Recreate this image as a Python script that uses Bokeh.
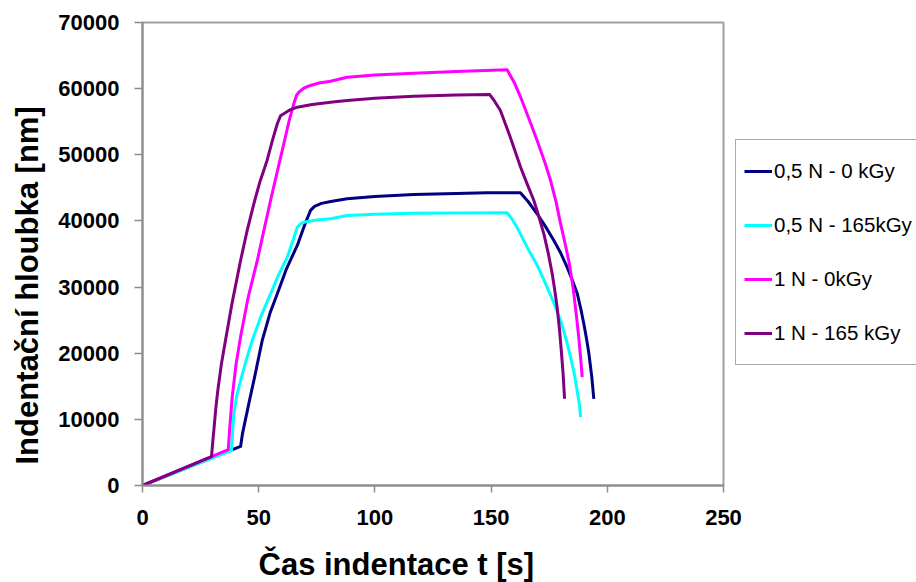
from bokeh.plotting import figure
from bokeh.models import Legend, LegendItem, FixedTicker, Range1d, Title
from bokeh.embed import file_html
from bokeh.resources import INLINE

# ---- data ----
t_05_0 = [0, 42.2, 43.0, 44.2, 46.0, 48.0, 51.5, 55.0, 58.0, 62.0, 66.6, 70.0, 72.3, 74.0, 77.0, 81.0, 88.0,
          100.0, 116.7, 135.0, 148.3, 162.6, 166.0, 169.8, 173.5, 177.0, 180.0, 182.7, 185.0, 187.1, 188.6,
          189.9, 191.1, 192.1, 193.3, 194.2]
y_05_0 = [0, 5900, 7800, 9800, 12800, 16000, 21900, 26200, 29000, 32800, 36300, 39600, 41600, 42200, 42650, 42940, 43340,
          43700, 44000, 44150, 44250, 44250, 42900, 41080, 39100, 37040, 35100, 33000, 31000, 28980, 26700,
          24450, 22100, 19910, 16500, 13100]

t_05_165 = [0, 38.3, 38.8, 39.3, 40.5, 42.2, 44.5, 47.2, 51.0, 55.1, 58.5, 62.3, 65.0, 66.6, 68.0, 69.4, 75.0, 80.9, 88.1,
            100.0, 116.7, 135.0, 156.9, 159.0, 161.5, 165.5, 170.0, 174.1, 177.0, 179.9, 182.2, 184.2, 185.8,
            187.0, 188.0, 188.5]
y_05_165 = [0, 5300, 8200, 10840, 13500, 15870, 18800, 21920, 25600, 28980, 31800, 34520, 37300, 39050, 39560, 39810,
            40150, 40320, 40820, 41000, 41170, 41200, 41230, 40300, 38800, 36030, 33200, 29980, 27600, 24950, 22200,
            19400, 16900, 14360, 12300, 10330]

t_1_0 = [0, 36.9, 37.6, 38.6, 40.2, 42.2, 45.5, 49.4, 52.0, 55.1, 58.0, 60.8, 63.0, 65.1, 66.3, 67.3, 69.5, 72.3,
         76.0, 80.9, 88.1, 100.0, 116.7, 135.0, 156.9, 160.0, 162.7, 166.0, 169.8, 173.0, 175.6, 178.0, 179.9,
         181.7, 183.4, 184.6, 185.6, 186.7, 187.7, 188.5, 189.2]
y_1_0 = [0, 5440, 9000, 13350, 18200, 22500, 28500, 34020, 38200, 43090, 47500, 51660, 55000, 57710, 59000, 59470,
         60100, 60480, 60850, 61130, 61730, 62050, 62340, 62600, 62850, 60900, 58710, 55700, 52160, 49000, 46110,
         42800, 39570, 36800, 34020, 31500, 28980, 25700, 22420, 19400, 16370]

t_1_165 = [0, 29.7, 30.2, 30.7, 31.5, 32.4, 34.0, 35.7, 38.5, 42.2, 45.0, 47.9, 50.5, 53.6, 56.0, 58.0, 59.4, 60.8,
           63.5, 66.6, 73.0, 80.9, 88.1, 100.0, 116.7, 135.0, 149.4, 151.5, 154.0, 158.0, 162.7, 165.5, 168.4,
           170.6, 172.7, 174.6, 176.3, 177.4, 178.4, 179.4, 180.2, 181.0, 181.6]
y_1_165 = [0, 4380, 6500, 8320, 11500, 14360, 18500, 21920, 27500, 34020, 38500, 42590, 45900, 49140, 52300, 54690,
           55900, 56200, 56800, 57200, 57600, 57950, 58210, 58550, 58860, 59050, 59110, 58100, 56700, 52900, 48120,
           45600, 43090, 40600, 38050, 35100, 32010, 29500, 26960, 23700, 20410, 16800, 13110]

series_names = ["0,5 N - 0 kGy", "0,5 N - 165kGy", "1 N - 0kGy", "1 N - 165 kGy"]
series_colors = ["#000080", "#00FFFF", "#FF00FF", "#800080"]

x_ticks = [0, 50, 100, 150, 200, 250]
y_ticks = [0, 10000, 20000, 30000, 40000, 50000, 60000, 70000]

x_title = "Čas indentace t [s]"
y_title = "Indentační hloubka [nm]"

FONT = "Liberation Sans"

p = figure(frame_width=581, frame_height=463,
           min_border_left=142, min_border_right=193, min_border_top=22, min_border_bottom=100,
           x_range=Range1d(0, 250), y_range=Range1d(0, 70000),
           output_backend="svg", toolbar_location=None,
           background_fill_color="white", border_fill_color="white")

p.xgrid.visible = False
p.ygrid.visible = False
p.outline_line_color = "#a0a0a0"
p.outline_line_width = 2

for ax in (p.xaxis[0], p.yaxis[0]):
    ax.axis_line_color = "#8c8c8c"
    ax.axis_line_width = 2
    ax.major_tick_line_color = "#8c8c8c"
    ax.major_tick_line_width = 1.5
    ax.major_tick_in = 0
    ax.minor_tick_line_color = None
    ax.major_label_text_font = FONT
    ax.major_label_text_font_style = "bold"
    ax.major_label_text_font_size = "22px"
    ax.major_label_text_color = "black"

p.xaxis.ticker = FixedTicker(ticks=x_ticks)
p.yaxis.ticker = FixedTicker(ticks=y_ticks)
p.xaxis.major_tick_out = 7
p.yaxis.major_tick_out = 8
p.xaxis.major_label_standoff = 17
p.yaxis.major_label_standoff = 15

tx = Title(text=x_title, align="left", offset=116, vertical_align="bottom", standoff=34,
           text_font=FONT, text_font_style="bold", text_font_size="31px", text_color="black")
p.add_layout(tx, "below")
ty = Title(text=y_title, align="left", offset=21, vertical_align="top", standoff=17,
           text_font=FONT, text_font_style="bold", text_font_size="31px", text_color="black")
p.add_layout(ty, "left")

data = [(t_05_0, y_05_0), (t_05_165, y_05_165), (t_1_0, y_1_0), (t_1_165, y_1_165)]
items = []
for (xs, ys), name, col in zip(data, series_names, series_colors):
    r = p.line(xs, ys, line_color=col, line_width=3, line_join="round")
    items.append(LegendItem(label=name, renderers=[r]))

legend = Legend(items=items, location=(12, 120),
                label_text_font=FONT, label_text_font_size="20.5px", label_text_color="black",
                glyph_width=28, glyph_height=46, label_height=46, label_standoff=2,
                spacing=8, padding=8, margin=0,
                border_line_color="#555555", border_line_width=1.5,
                background_fill_color="white", background_fill_alpha=1.0)
p.add_layout(legend, "right")

open("out.html", "w").write(file_html(p, INLINE))
